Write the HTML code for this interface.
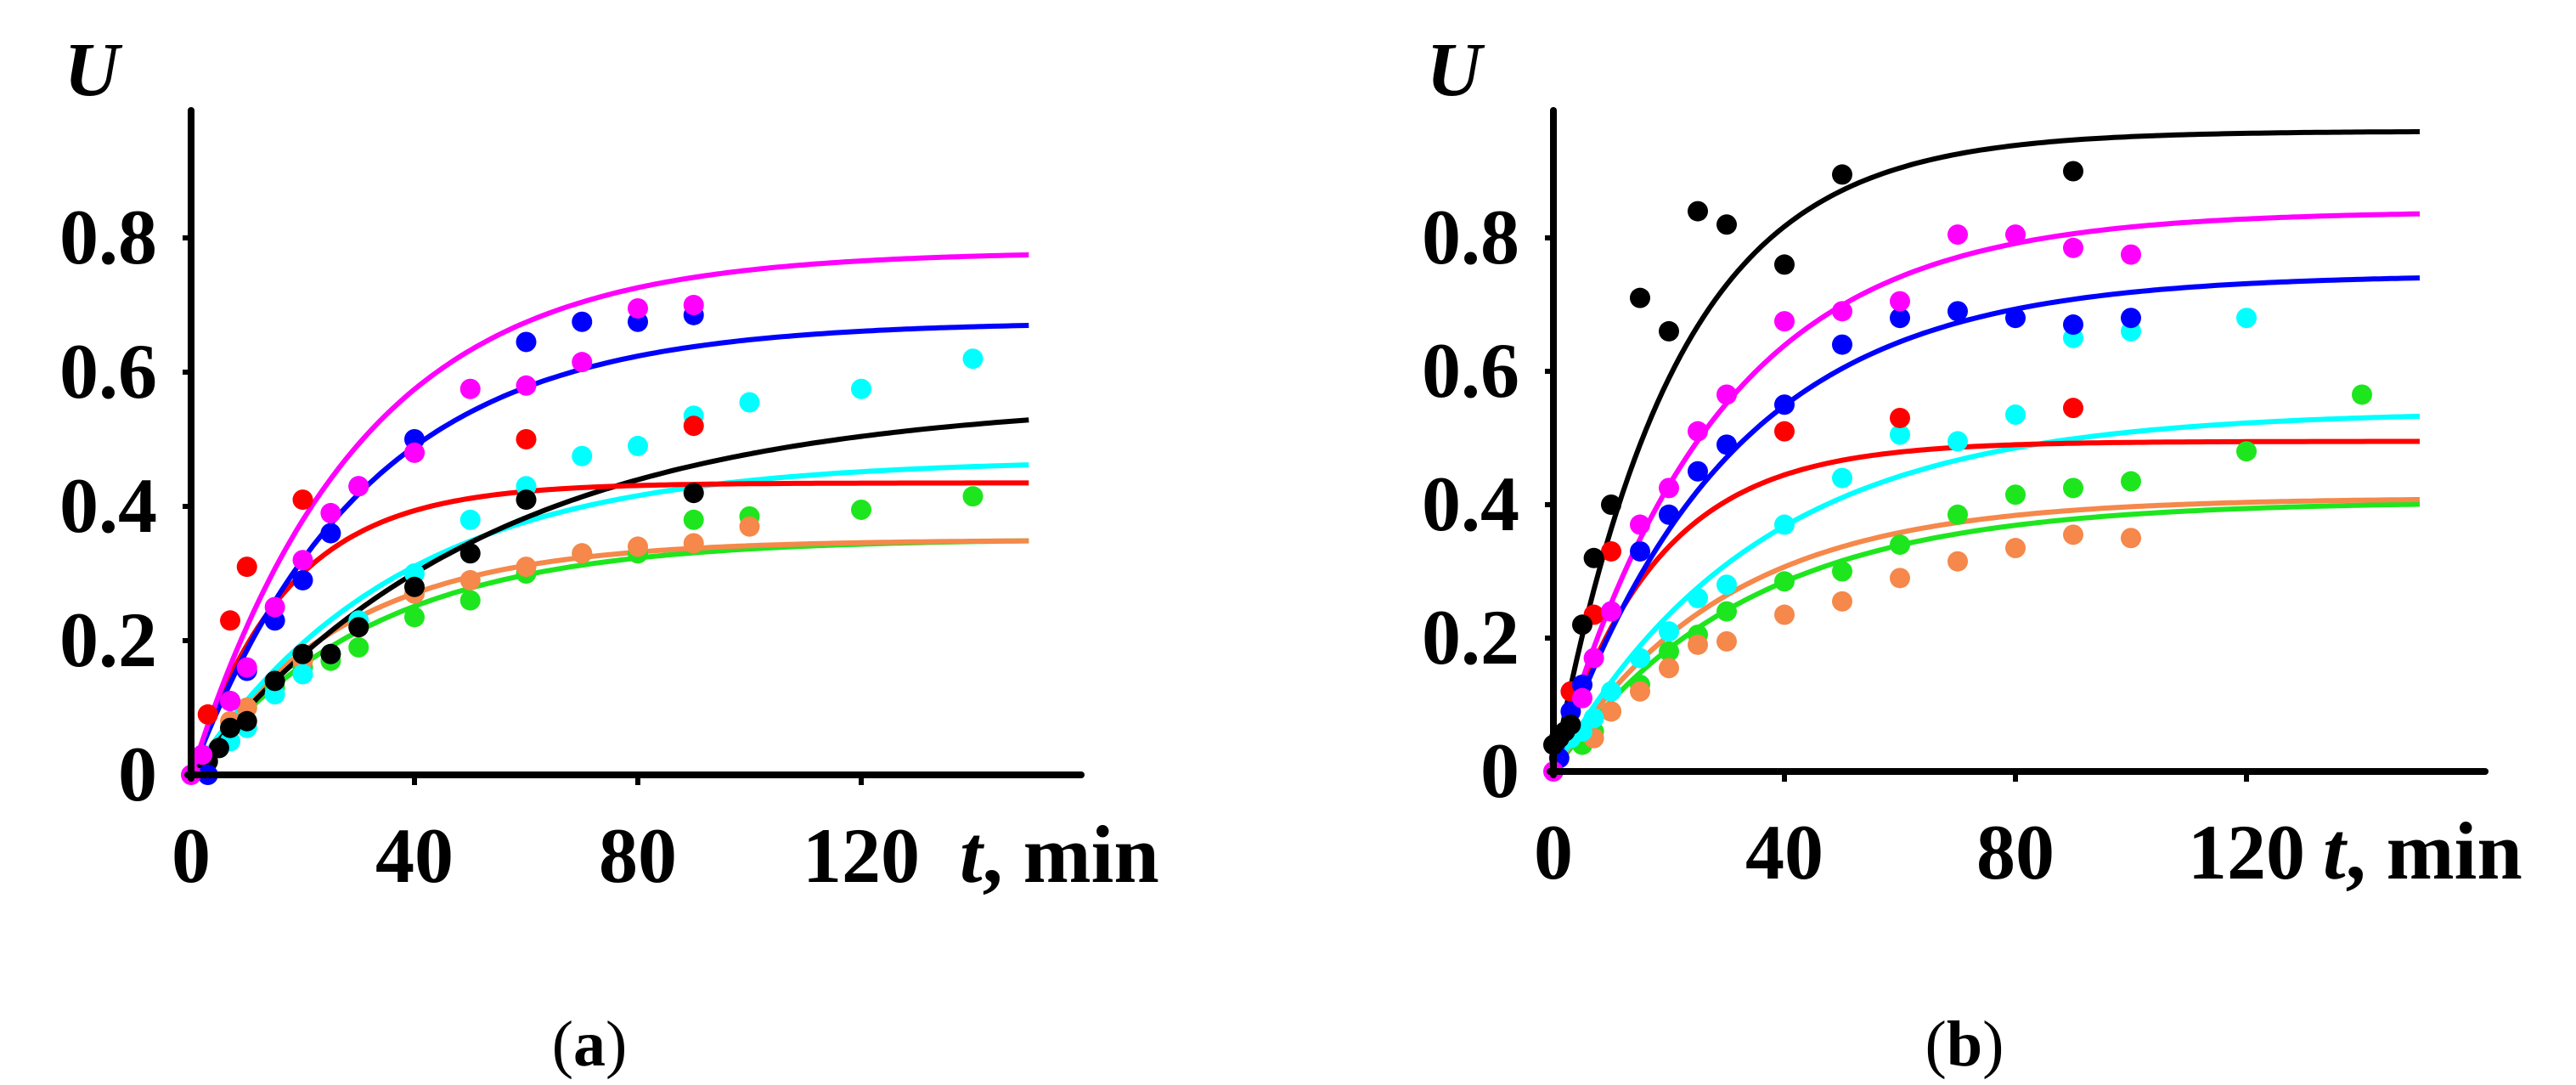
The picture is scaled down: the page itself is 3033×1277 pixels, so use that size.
<!DOCTYPE html>
<html><head><meta charset="utf-8"><style>
html,body{margin:0;padding:0;background:#fff;}
svg{display:block;}
text{font-family:"Liberation Serif",serif;font-weight:bold;fill:#000;}
</style></head>
<body>
<svg id="chart" width="3033" height="1277" viewBox="0 0 3033 1277" xmlns="http://www.w3.org/2000/svg"></svg>
<script>
// ---- data ----
const seriesNames = ["magenta","blue","red","cyan","black","orange","green"];
const seriesColors = ["#ff00ff","#0000ff","#ff0000","#00ffff","#000000","#f5884a","#1ee61e"];
const yTicks = [0,0.2,0.4,0.6,0.8];
const yTickLabels = ["0","0.2","0.4","0.6","0.8"];
const xTicks = [0,40,80,120];
const xTickLabels = ["0","40","80","120"];
// panel (a) fitted curves: U = A(1-exp(-t/tau))
const aCurveA   = [0.78,0.675,0.435,0.47,0.56,0.35,0.352];
const aCurveTau = [30,31,17,37,52,27,32];
const aT = [
 [0,2,7,10,15,20,25,30,40,50,60,70,80,90],
 [3,7,10,15,20,25,30,40,60,70,80,90],
 [3,7,10,20,40,60,90],
 [5,7,10,15,20,25,30,40,50,60,70,80,90,100,120,140],
 [3,5,7,10,15,20,25,30,40,50,60,90],
 [7,10,20,30,40,50,60,70,80,90,100],
 [10,15,20,25,30,40,50,60,70,80,90,100,120,140]
];
const aU = [
 [0,0.03,0.11,0.16,0.25,0.32,0.39,0.43,0.48,0.575,0.58,0.615,0.695,0.70],
 [0,0.11,0.155,0.23,0.29,0.36,0.43,0.50,0.645,0.675,0.675,0.685],
 [0.09,0.23,0.31,0.41,0.48,0.50,0.52],
 [0.04,0.05,0.07,0.12,0.15,0.18,0.23,0.30,0.38,0.43,0.475,0.49,0.535,0.555,0.575,0.62],
 [0.02,0.04,0.07,0.08,0.14,0.18,0.18,0.22,0.28,0.33,0.41,0.42],
 [0.08,0.10,0.17,0.22,0.27,0.29,0.31,0.33,0.34,0.345,0.37],
 [0.10,0.13,0.16,0.17,0.19,0.235,0.26,0.30,0.33,0.33,0.38,0.385,0.395,0.415]
];
// panel (b)
const bCurveA   = [0.84,0.745,0.495,0.54,0.96,0.41,0.405];
const bCurveTau = [28,30,17.5,35,21,29,33];
const bT = [
 [0,5,7,10,15,20,25,30,40,50,60,70,80,90,100],
 [1,3,5,10,15,20,25,30,40,50,60,70,80,90,100],
 [3,7,10,40,60,90],
 [3,5,7,10,15,20,25,30,40,50,60,70,80,90,100,120],
 [0,1,2,3,5,7,10,15,20,25,30,40,50,90],
 [7,10,15,20,25,30,40,50,60,70,80,90,100],
 [5,7,10,15,20,25,30,40,50,60,70,80,90,100,120,140]
];
const bU = [
 [0,0.11,0.17,0.24,0.37,0.425,0.51,0.565,0.675,0.69,0.705,0.805,0.805,0.785,0.775],
 [0.02,0.09,0.13,0.24,0.33,0.385,0.45,0.49,0.55,0.64,0.68,0.69,0.68,0.67,0.68],
 [0.12,0.235,0.33,0.51,0.53,0.545],
 [0.05,0.06,0.08,0.12,0.17,0.21,0.26,0.28,0.37,0.44,0.505,0.495,0.535,0.65,0.66,0.68],
 [0.04,0.05,0.06,0.07,0.22,0.32,0.40,0.71,0.66,0.84,0.82,0.76,0.895,0.90],
 [0.05,0.09,0.12,0.155,0.19,0.195,0.235,0.255,0.29,0.315,0.335,0.355,0.35],
 [0.04,0.06,0.09,0.13,0.18,0.205,0.24,0.285,0.30,0.34,0.385,0.415,0.425,0.435,0.48,0.565]
];
const curveOrderA = [6,5,3,4,2,1,0];
const curveOrderB = [6,5,3,2,1,0,4];

const NS="http://www.w3.org/2000/svg";
const svg=document.getElementById('chart');
function mk(tag,attrs,parent){const e=document.createElementNS(NS,tag);for(const k in attrs)e.setAttribute(k,attrs[k]);(parent||svg).appendChild(e);return e;}

function panel(id,ox,oy,px40,py02,axisEnd,yTop,cA,cTau,T,U,order,label,labelX,tTitleX,uX){
  const g=mk('g',{});
  
  
  const X=t=>ox+t/40*px40;
  const Y=u=>oy-u/0.2*py02;
  for(const i of order){
    let d='';
    for(let t=0;t<=150;t+=1){const u=cA[i]*(1-Math.exp(-t/cTau[i]));d+=(t?'L':'M')+X(t).toFixed(1)+','+Y(u).toFixed(1);}
    const p=mk('path',{d:d,fill:'none',stroke:seriesColors[i],'stroke-width':6},g);
    
    
  }
  for(const i of order){
    const pg=mk('g',{fill:seriesColors[i]},g);
    
    
    for(let k=0;k<T[i].length;k++){
      const c=mk('circle',{cx:X(T[i][k]),cy:Y(U[i][k]),r:12},pg);
      
      
    }
  }
  const ya=mk('line',{x1:ox,y1:yTop,x2:ox,y2:oy+4,stroke:'#000','stroke-width':8,'stroke-linecap':'round'},g);
  
  
  const xa=mk('line',{x1:ox-4,y1:oy,x2:axisEnd,y2:oy,stroke:'#000','stroke-width':8,'stroke-linecap':'round'},g);
  
  
  for(let k=0;k<yTicks.length;k++){
    const y=Y(yTicks[k]);
    if(k>0){mk('line',{x1:ox-10,y1:y,x2:ox,y2:y,stroke:'#000','stroke-width':6},g);}
    const t=mk('text',{x:ox-40,y:y+30,'font-size':92,'text-anchor':'end'},g);
    t.textContent=yTickLabels[k];
    
    
  }
  for(let k=0;k<xTicks.length;k++){
    const x=X(xTicks[k]);
    if(k>0){mk('line',{x1:x,y1:oy,x2:x,y2:oy+12,stroke:'#000','stroke-width':6},g);}
    const t=mk('text',{x:x,y:oy+126,'font-size':92,'text-anchor':'middle'},g);
    t.textContent=xTickLabels[k];
    
    
  }
  const xt=mk('text',{x:tTitleX,y:oy+126,'font-size':96},g);
  xt.innerHTML='<tspan font-style="italic">t</tspan>, min';
  
  
  const yt=mk('text',{x:uX,y:112,'font-size':90,'font-style':'italic','text-anchor':'middle'},g);
  yt.textContent='U';
  
  
  const pl=mk('text',{x:labelX,y:1254,'font-size':76,'text-anchor':'middle'},g);
  pl.style.fontWeight='normal';
  pl.innerHTML='(<tspan font-weight="bold">'+label+'</tspan>)';
  
  
}
panel('a',225,912,263,158,1273,130,aCurveA,aCurveTau,aT,aU,curveOrderA,'a',694,1130,108);
panel('b',1829,908,272,157,2926,130,bCurveA,bCurveTau,bT,bU,curveOrderB,'b',2313,2735,1712);
</script>
</body></html>
